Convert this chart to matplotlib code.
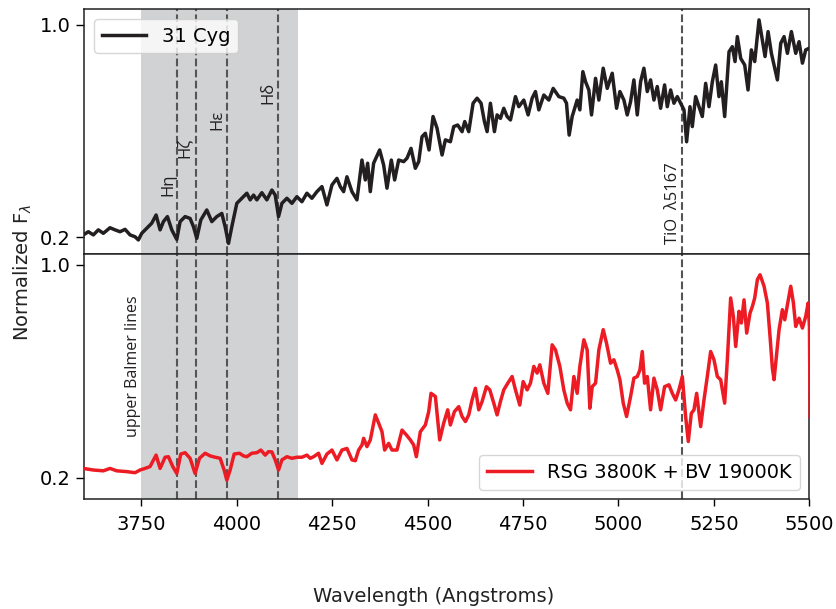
import numpy as np
import matplotlib
matplotlib.use('Agg')
from matplotlib import pyplot as plt

# observed spectrum of 31 Cyg (normalised flux)
cyg_wave = [3598.0, 3611.1, 3624.2, 3637.3, 3650.4, 3667.9, 3681.0, 3694.2, 3707.3, 3720.4,
            3733.5, 3742.2, 3751.0, 3764.1, 3777.2, 3788.6, 3799.1, 3807.8, 3818.3, 3829.7,
            3842.8, 3851.5, 3864.6, 3877.7, 3886.5, 3895.2, 3905.7, 3921.4, 3934.6, 3947.7,
            3960.8, 3969.5, 3978.3, 3987.0, 4000.1, 4013.2, 4026.4, 4035.1, 4043.9, 4052.6,
            4065.7, 4078.8, 4092.0, 4100.7, 4109.4, 4118.2, 4131.3, 4144.4, 4157.5, 4170.6,
            4183.7, 4196.8, 4210.0, 4223.1, 4236.2, 4249.3, 4262.4, 4271.1, 4279.9, 4288.6,
            4301.7, 4314.8, 4327.9, 4336.7, 4342.8, 4349.8, 4358.5, 4374.3, 4384.8, 4393.5,
            4404.9, 4413.6, 4424.1, 4437.2, 4446.0, 4456.5, 4467.8, 4476.6, 4485.3, 4494.0,
            4503.7, 4514.2, 4524.6, 4537.8, 4546.5, 4559.6, 4568.4, 4578.8, 4590.2, 4597.2,
            4607.7, 4619.1, 4629.5, 4640.0, 4648.8, 4655.8, 4664.5, 4675.0, 4682.0, 4690.7,
            4699.5, 4708.2, 4717.0, 4730.1, 4738.8, 4751.9, 4763.3, 4773.8, 4782.5, 4791.3,
            4804.4, 4817.5, 4828.9, 4843.7, 4856.8, 4863.8, 4870.8, 4878.7, 4891.8, 4898.8,
            4906.7, 4913.7, 4922.4, 4929.4, 4939.9, 4948.6, 4960.0, 4970.5, 4983.6, 4995.0,
            5003.7, 5014.2, 5022.9, 5031.7, 5040.4, 5049.2, 5057.9, 5066.6, 5075.4, 5084.1,
            5092.9, 5101.6, 5110.4, 5120.8, 5127.8, 5136.6, 5145.3, 5154.1, 5162.8, 5171.6,
            5178.5, 5187.3, 5193.4, 5202.1, 5210.9, 5219.6, 5228.4, 5237.1, 5245.9, 5254.6,
            5263.3, 5269.5, 5278.2, 5289.6, 5298.3, 5305.3, 5311.4, 5320.2, 5330.7, 5339.4,
            5348.1, 5356.9, 5368.2, 5377.0, 5384.0, 5391.9, 5400.6, 5409.3, 5416.3, 5425.1,
            5433.8, 5442.6, 5453.0, 5464.4, 5473.1, 5481.9, 5490.6, 5499.4]
cyg_flux = [0.209, 0.221, 0.209, 0.228, 0.215, 0.236, 0.228, 0.221, 0.230, 0.209,
            0.202, 0.190, 0.215, 0.234, 0.253, 0.284, 0.228, 0.259, 0.278, 0.228,
            0.192, 0.259, 0.278, 0.271, 0.240, 0.196, 0.265, 0.303, 0.259, 0.278,
            0.290, 0.240, 0.177, 0.240, 0.328, 0.347, 0.366, 0.341, 0.359, 0.341,
            0.368, 0.341, 0.378, 0.359, 0.278, 0.328, 0.347, 0.328, 0.353, 0.334,
            0.366, 0.347, 0.372, 0.391, 0.322, 0.397, 0.422, 0.391, 0.372, 0.428,
            0.372, 0.341, 0.491, 0.416, 0.479, 0.372, 0.479, 0.529, 0.472, 0.385,
            0.491, 0.416, 0.491, 0.485, 0.498, 0.535, 0.460, 0.485, 0.579, 0.592,
            0.529, 0.655, 0.611, 0.510, 0.567, 0.560, 0.617, 0.623, 0.598, 0.636,
            0.598, 0.705, 0.724, 0.705, 0.636, 0.598, 0.705, 0.598, 0.661, 0.648,
            0.686, 0.655, 0.642, 0.730, 0.692, 0.717, 0.661, 0.724, 0.749, 0.680,
            0.736, 0.717, 0.761, 0.730, 0.724, 0.705, 0.585, 0.655, 0.717, 0.680,
            0.824, 0.786, 0.755, 0.661, 0.799, 0.717, 0.837, 0.761, 0.818, 0.686,
            0.749, 0.717, 0.661, 0.711, 0.793, 0.661, 0.786, 0.837, 0.749, 0.793,
            0.717, 0.768, 0.686, 0.774, 0.692, 0.755, 0.705, 0.730, 0.705, 0.680,
            0.560, 0.692, 0.617, 0.730, 0.692, 0.655, 0.780, 0.692, 0.786, 0.849,
            0.730, 0.786, 0.655, 0.899, 0.918, 0.862, 0.956, 0.874, 0.849, 0.755,
            0.906, 0.862, 1.019, 0.943, 0.881, 0.975, 0.893, 0.837, 0.793, 0.931,
            0.956, 0.893, 0.975, 0.893, 0.937, 0.856, 0.906, 0.912]

# composite model: red supergiant 3800 K + blue companion 19000 K
model_wave = [3598.0, 3624.2, 3650.4, 3667.9, 3685.4, 3711.6, 3733.5, 3746.6, 3759.7, 3772.8,
              3788.6, 3799.1, 3812.2, 3820.9, 3832.3, 3842.8, 3853.3, 3864.6, 3877.7, 3890.8,
              3902.2, 3917.1, 3930.2, 3943.3, 3956.4, 3966.9, 3973.9, 3982.6, 3993.1, 4007.1,
              4017.6, 4026.4, 4039.5, 4052.6, 4063.1, 4074.4, 4083.2, 4091.9, 4100.7, 4109.4,
              4118.2, 4131.3, 4144.4, 4157.5, 4170.6, 4183.7, 4192.5, 4201.2, 4214.3, 4223.1,
              4236.2, 4249.3, 4262.4, 4275.5, 4288.6, 4301.7, 4310.5, 4319.2, 4328.0, 4332.3,
              4341.1, 4349.8, 4362.9, 4371.7, 4380.4, 4387.4, 4397.9, 4406.6, 4419.7, 4432.9,
              4444.2, 4454.7, 4463.5, 4470.4, 4480.9, 4494.0, 4502.8, 4508.9, 4520.3, 4531.6,
              4542.1, 4552.6, 4559.6, 4570.1, 4581.5, 4590.2, 4599.0, 4607.7, 4616.4, 4625.2,
              4633.9, 4642.7, 4654.0, 4662.8, 4673.3, 4682.0, 4690.7, 4699.5, 4710.0, 4721.3,
              4730.1, 4741.4, 4750.2, 4760.7, 4769.4, 4778.2, 4786.9, 4793.9, 4804.4, 4814.9,
              4826.2, 4835.0, 4846.4, 4856.8, 4865.6, 4874.3, 4883.1, 4891.8, 4898.8, 4909.3,
              4918.0, 4925.0, 4931.2, 4939.9, 4948.6, 4960.0, 4968.7, 4979.2, 4988.0, 4996.7,
              5003.7, 5012.5, 5021.2, 5031.7, 5040.4, 5049.2, 5056.2, 5062.3, 5068.4, 5075.4,
              5084.1, 5092.9, 5101.6, 5110.4, 5120.8, 5132.2, 5141.0, 5149.7, 5158.4, 5167.2,
              5175.9, 5182.9, 5190.8, 5197.8, 5204.8, 5215.3, 5224.0, 5232.7, 5241.5, 5250.2,
              5259.0, 5267.7, 5278.2, 5285.2, 5293.9, 5300.9, 5307.1, 5315.8, 5321.9, 5328.9,
              5335.9, 5344.6, 5350.8, 5356.9, 5363.9, 5370.9, 5381.4, 5390.1, 5397.1, 5403.2,
              5407.6, 5414.6, 5420.7, 5429.4, 5435.6, 5442.6, 5451.3, 5458.3, 5464.4, 5473.1,
              5481.9, 5490.6, 5496.8, 5500.3, 5502.0]
model_flux = [0.235, 0.229, 0.226, 0.235, 0.226, 0.223, 0.219, 0.229, 0.235, 0.242,
              0.285, 0.235, 0.277, 0.279, 0.242, 0.216, 0.289, 0.294, 0.273, 0.216,
              0.273, 0.292, 0.282, 0.277, 0.273, 0.229, 0.191, 0.229, 0.289, 0.292,
              0.282, 0.279, 0.292, 0.294, 0.304, 0.285, 0.298, 0.297, 0.267, 0.229,
              0.267, 0.279, 0.273, 0.277, 0.277, 0.285, 0.273, 0.279, 0.292, 0.254,
              0.289, 0.304, 0.267, 0.304, 0.310, 0.267, 0.264, 0.304, 0.323, 0.348,
              0.317, 0.342, 0.436, 0.405, 0.373, 0.304, 0.329, 0.304, 0.304, 0.379,
              0.361, 0.342, 0.323, 0.279, 0.373, 0.398, 0.448, 0.517, 0.505, 0.342,
              0.405, 0.455, 0.398, 0.448, 0.467, 0.430, 0.411, 0.436, 0.492, 0.536,
              0.455, 0.486, 0.542, 0.530, 0.480, 0.436, 0.486, 0.530, 0.555, 0.580,
              0.530, 0.473, 0.561, 0.530, 0.555, 0.618, 0.593, 0.624, 0.555, 0.517,
              0.699, 0.680, 0.618, 0.530, 0.480, 0.455, 0.580, 0.517, 0.618, 0.718,
              0.680, 0.461, 0.542, 0.555, 0.680, 0.756, 0.705, 0.630, 0.643, 0.605,
              0.568, 0.480, 0.430, 0.505, 0.574, 0.580, 0.605, 0.674, 0.555, 0.580,
              0.455, 0.574, 0.530, 0.455, 0.542, 0.549, 0.517, 0.492, 0.530, 0.580,
              0.430, 0.336, 0.442, 0.455, 0.517, 0.392, 0.492, 0.580, 0.674, 0.643,
              0.580, 0.568, 0.480, 0.643, 0.875, 0.806, 0.693, 0.825, 0.781, 0.868,
              0.743, 0.818, 0.843, 0.875, 0.944, 0.962, 0.919, 0.856, 0.730, 0.611,
              0.568, 0.668, 0.756, 0.831, 0.793, 0.850, 0.919, 0.856, 0.768, 0.799,
              0.762, 0.806, 0.856, 0.768, 0.430]

# line markers: wavelength and label
balmer_wave = [3843, 3894, 3975, 4107]
balmer_names = ['Hη', 'Hζ', 'Hε', 'Hδ']
balmer_label_pos = [(3820, 0.397), (3864, 0.536), (3948, 0.642), (4082, 0.743)]
tio_wave = 5167
tio_label_pos = (5143, 0.329)
balmer_region = (3750, 4160)

black = '#231f20'
red = '#ed1c24'
shade = '#d1d2d4'
dash = '#555555'
label_font = ['Open Sans', 'DejaVu Sans']

plt.rcParams['font.family'] = 'DejaVu Sans'
plt.rcParams['font.size'] = 14

fig = plt.figure(figsize=(8.36, 6.09), dpi=100)
ax1 = fig.add_axes([0.1006, 0.5829, 0.8675, 0.4023])
ax2 = fig.add_axes([0.1006, 0.1801, 0.8675, 0.4028])

for ax in (ax1, ax2):
    ax.axvspan(*balmer_region, color=shade, lw=0, zorder=0)
    for w in balmer_wave + [tio_wave]:
        ax.axvline(w, color=dash, ls='--', lw=1.5, zorder=1)
    ax.set_xlim(3600, 5500)
    ax.set_yticks([0.2, 1.0])
    ax.set_yticklabels(['0.2', '1.0'])
    ax.tick_params(axis='y', length=6, width=1, labelsize=14)
    for s in ax.spines.values():
        s.set_color('#222222')
        s.set_linewidth(1.1)

ax1.plot(cyg_wave, cyg_flux, color=black, lw=2.5, label='31 Cyg', zorder=3)
ax1.set_ylim(0.137, 1.06)
ax1.tick_params(axis='x', bottom=False, labelbottom=False)
ax1.legend(loc='upper left', fontsize=14, handlelength=2.3)

ax2.plot(model_wave, model_flux, color=red, lw=2.5, label='RSG 3800K + BV 19000K', zorder=3)
ax2.set_ylim(0.119, 1.04)
ax2.set_xticks(np.arange(3750, 5501, 250))
ax2.tick_params(axis='x', length=5, width=1, labelsize=14, pad=6)
ax2.legend(loc='lower right', fontsize=14, handlelength=2.3)

for name, (x, y) in zip(balmer_names, balmer_label_pos):
    ax1.text(x, y, name, rotation=90, ha='center', va='center', fontsize=12,
             family=label_font, color='#231f20')
ax1.text(*tio_label_pos, 'TiO  λ5167', rotation=90, ha='center', va='center',
         fontsize=12, family=label_font, color='#231f20')
ax2.text(3728, 0.620, 'upper Balmer lines', rotation=90, ha='center', va='center',
         fontsize=11.5, family=label_font, color='#231f20')

fig.text(0.0275, 0.553, 'Normalized F$_\\lambda$', rotation=90, ha='center', va='center',
         fontsize=14, color='#222222')
fig.text(0.519, 0.020, 'Wavelength (Angstroms)', ha='center', va='center',
         fontsize=14, color='#222222')

fig.savefig('out.png', dpi=100)
